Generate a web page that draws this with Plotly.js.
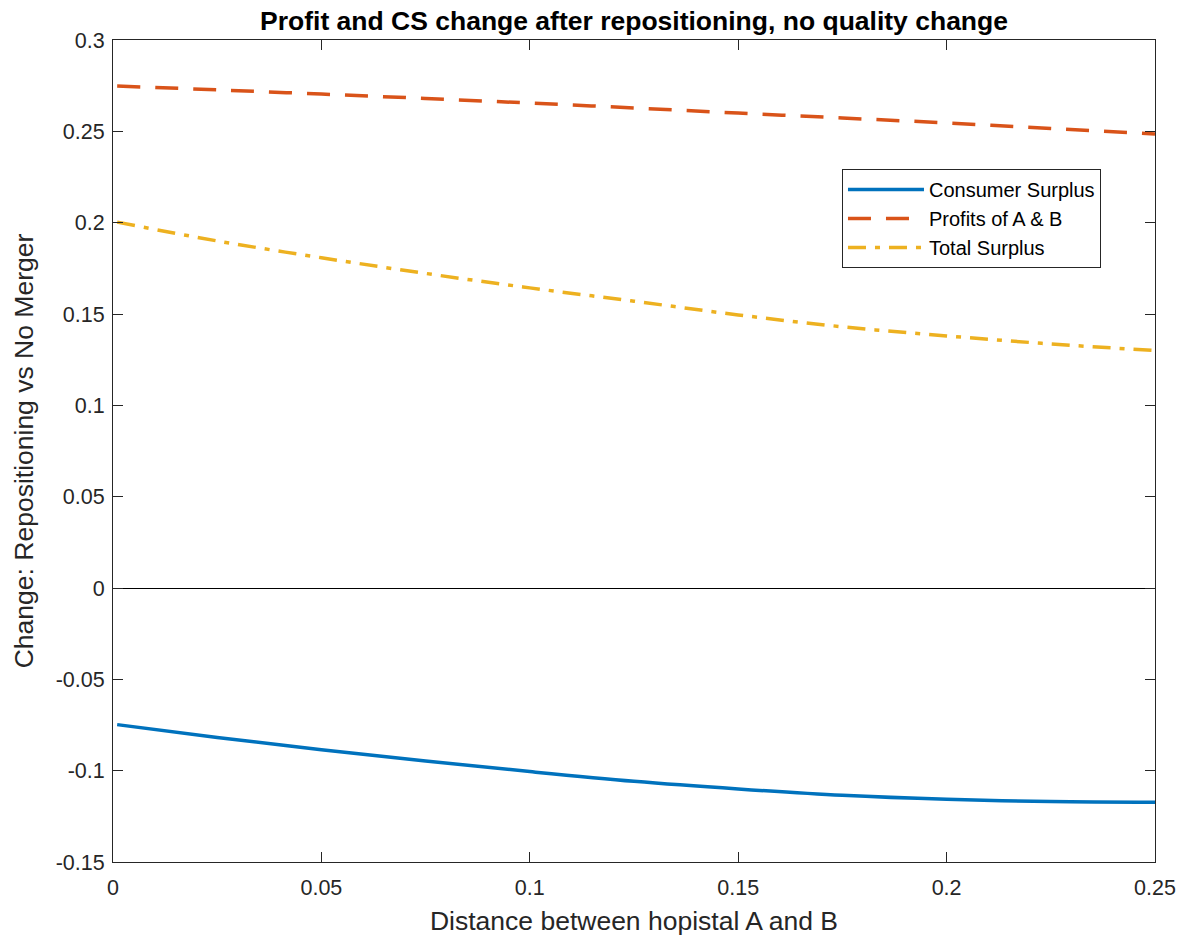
<!DOCTYPE html>
<html>
<head>
<meta charset="utf-8">
<script src="https://cdn.plot.ly/plotly-3.0.1.min.js"></script>
<style>
  html, body { margin: 0; padding: 0; background: #ffffff; }
  #chart { width: 1192px; height: 940px; }
</style>
</head>
<body>
<div id="chart"></div>
<script>
// Distance between hospitals A and B
const distance = [0.001, 0.025, 0.05, 0.075, 0.1, 0.125, 0.15, 0.175, 0.2, 0.225, 0.25];

// Change relative to no merger
const consumerSurplus = [-0.0748, -0.0818, -0.0885, -0.0947, -0.1005, -0.1058, -0.1100, -0.1135, -0.1157, -0.1169, -0.1173];
const profitsAB       = [0.2748, 0.2727, 0.2704, 0.2680, 0.2655, 0.2628, 0.2600, 0.2573, 0.2546, 0.2516, 0.2485];
const totalSurplus    = [0.2003, 0.1900, 0.1808, 0.1722, 0.1643, 0.1570, 0.1495, 0.1430, 0.1380, 0.1336, 0.1300];

const xTickVals = [0, 0.05, 0.1, 0.15, 0.2, 0.25];
const xTickText = ['0', '0.05', '0.1', '0.15', '0.2', '0.25'];
const yTickVals = [-0.15, -0.1, -0.05, 0, 0.05, 0.1, 0.15, 0.2, 0.25, 0.3];
const yTickText = ['-0.15', '-0.1', '-0.05', '0', '0.05', '0.1', '0.15', '0.2', '0.25', '0.3'];

const font = 'Liberation Sans, Arial, Helvetica, sans-serif';
const axisColor = '#262626';

const traces = [
  {
    x: distance, y: consumerSurplus, name: 'Consumer Surplus',
    type: 'scatter', mode: 'lines',
    line: { color: '#0072BD', width: 3.5, shape: 'spline' }
  },
  {
    x: distance, y: profitsAB, name: 'Profits of A & B',
    type: 'scatter', mode: 'lines',
    line: { color: '#D95319', width: 3.5, dash: '23px,15px', shape: 'spline' }
  },
  {
    x: distance, y: totalSurplus, name: 'Total Surplus',
    type: 'scatter', mode: 'lines',
    line: { color: '#EDB120', width: 3.5, dash: '18px,9px,5px,9px', shape: 'spline' }
  }
];

const axisCommon = {
  showline: true, linecolor: axisColor, linewidth: 1, mirror: 'ticks',
  ticks: 'inside', ticklen: 10, tickwidth: 1, tickcolor: axisColor,
  showgrid: false,
  tickfont: { family: font, size: 21.5, color: axisColor },
  tickmode: 'array'
};

const layout = {
  width: 1192, height: 940,
  paper_bgcolor: '#ffffff', plot_bgcolor: '#ffffff',
  margin: { l: 113, r: 37, t: 40, b: 78 },
  title: {
    text: '<b>Profit and CS change after repositioning, no quality change</b>',
    font: { family: font, size: 26.5, color: '#000000' },
    x: 0.5, xref: 'paper', y: 1, yref: 'paper', yanchor: 'bottom', pad: { b: 10 }
  },
  xaxis: Object.assign({}, axisCommon, {
    range: [0, 0.25],
    tickvals: xTickVals, ticktext: xTickText,
    zeroline: false,
    ticklabelstandoff: 6,
    title: { text: 'Distance between hopistal A and B', font: { family: font, size: 26.5, color: axisColor }, standoff: 12 }
  }),
  yaxis: Object.assign({}, axisCommon, {
    range: [-0.15, 0.3],
    tickvals: yTickVals, ticktext: yTickText,
    zeroline: true, zerolinecolor: '#000000', zerolinewidth: 1,
    ticklabelstandoff: 3,
    title: { text: 'Change: Repositioning vs No Merger', font: { family: font, size: 26.5, color: axisColor }, standoff: 14 }
  }),
  legend: {
    x: 0.6996, y: 0.843, xanchor: 'left', yanchor: 'top',
    bgcolor: '#ffffff', bordercolor: axisColor, borderwidth: 1,
    font: { family: font, size: 20, color: '#000000' },
    itemwidth: 76,
    tracegroupgap: 0
  },
  showlegend: true
};

Plotly.newPlot('chart', traces, layout, { displayModeBar: false, staticPlot: true });
</script>
</body>
</html>
